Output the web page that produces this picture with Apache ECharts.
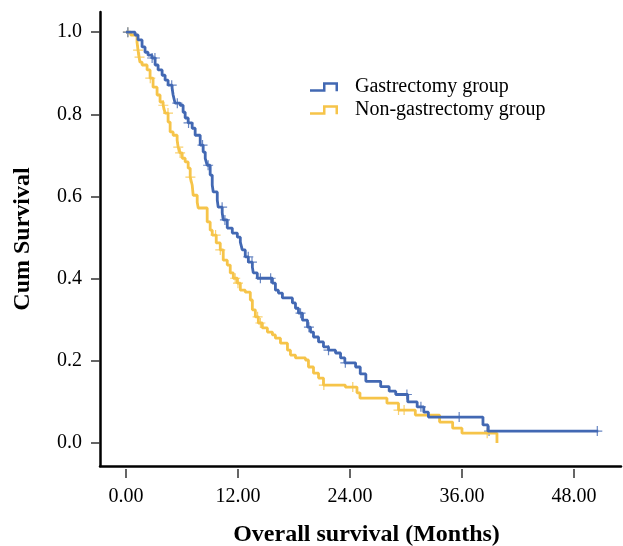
<!DOCTYPE html>
<html>
<head>
<meta charset="utf-8">
<script src="https://cdn.jsdelivr.net/npm/echarts@6/dist/echarts.min.js"></script>
<style>
  html, body { margin: 0; padding: 0; background: #fff; }
  #chart { width: 623px; height: 546px; }
</style>
</head>
<body>
<div id="chart"></div>
<script>
// step points [months, cum survival]
const gastrectomySteps = [
  [0, 1.0], [0.97, 0.993], [1.29, 0.981], [1.72, 0.964], [2.04, 0.951], [2.36, 0.944],
  [2.79, 0.937], [3.12, 0.920], [3.44, 0.908], [3.87, 0.895], [4.19, 0.883], [4.51, 0.871],
  [4.94, 0.864], [5.05, 0.847], [5.26, 0.827], [5.80, 0.822], [6.12, 0.805], [6.34, 0.791],
  [6.66, 0.779], [7.09, 0.766], [7.41, 0.749], [7.95, 0.725], [8.27, 0.708], [8.49, 0.693],
  [8.70, 0.676], [9.02, 0.652], [9.24, 0.628], [9.35, 0.611], [9.78, 0.591], [9.88, 0.574],
  [10.31, 0.560], [10.42, 0.543], [10.85, 0.523], [11.39, 0.511], [11.93, 0.501], [12.25, 0.489],
  [12.46, 0.470], [12.78, 0.453], [13.11, 0.440], [13.54, 0.428], [13.64, 0.414], [14.07, 0.401],
  [15.69, 0.389], [16.01, 0.372], [16.33, 0.365], [16.76, 0.353], [17.83, 0.341], [18.16, 0.328],
  [18.48, 0.316], [18.91, 0.299], [19.45, 0.282], [19.77, 0.270], [20.09, 0.258], [20.63, 0.246],
  [21.16, 0.234], [21.70, 0.226], [22.45, 0.219], [22.99, 0.207], [23.45, 0.195], [24.6, 0.185],
  [25.1, 0.168], [25.7, 0.150], [27.29, 0.137], [28.2, 0.126], [28.9, 0.118], [30.19, 0.100],
  [31.2, 0.088], [31.91, 0.075], [32.4, 0.063], [38.25, 0.044], [38.78, 0.029], [50.6, 0.029]
];
const nonGastrectomySteps = [
  [0, 1.0], [0.5, 0.993], [1.18, 0.976], [1.29, 0.956], [1.40, 0.939], [1.50, 0.927],
  [1.72, 0.920], [2.26, 0.908], [2.58, 0.888], [2.90, 0.866], [3.33, 0.847], [3.65, 0.830],
  [3.98, 0.822], [4.19, 0.803], [4.51, 0.781], [4.73, 0.757], [5.05, 0.749], [5.48, 0.737],
  [5.59, 0.720], [5.80, 0.706], [6.02, 0.693], [6.34, 0.684], [6.66, 0.669], [6.88, 0.647],
  [7.09, 0.628], [7.20, 0.603], [7.63, 0.586], [7.74, 0.572], [8.70, 0.538], [9.02, 0.518],
  [9.24, 0.506], [9.67, 0.487], [10.10, 0.470], [10.42, 0.445], [10.85, 0.433], [11.17, 0.414],
  [11.50, 0.401], [11.93, 0.389], [12.25, 0.372], [12.78, 0.367], [13.32, 0.348], [13.54, 0.324],
  [13.86, 0.307], [14.18, 0.292], [14.61, 0.280], [15.15, 0.270], [15.69, 0.263], [16.01, 0.255],
  [16.55, 0.243], [17.30, 0.226], [17.62, 0.214], [18.16, 0.207], [19.23, 0.202], [19.55, 0.185],
  [20.09, 0.170], [20.63, 0.158], [21.16, 0.141], [23.5, 0.136], [24.75, 0.122], [25.07, 0.109],
  [27.96, 0.097], [29.2, 0.080], [31.0, 0.068], [33.6, 0.051], [35.0, 0.036], [36.0, 0.024],
  [39.75, 0.0]
];
// censored times (the + marks)
const gastrectomyCensored = [0.2, 2.8, 3.1, 4.9, 5.5, 6.7, 8.2, 8.8, 10.3, 10.6, 13.1, 13.5,
  14.4, 15.5, 18.7, 19.6, 21.7, 23.5, 30.1, 31.6, 35.7, 38.9, 50.5];
const nonGastrectomyCensored = [0.2, 1.3, 1.45, 2.6, 4.0, 4.5, 5.6, 5.8, 6.9, 9.6, 10.1, 11.7,
  12.0, 14.1, 14.4, 21.2, 24.3, 29.2, 29.8, 38.7];

const xTicks = [0, 12, 24, 36, 48];
const yTicks = [0, 0.2, 0.4, 0.6, 0.8, 1.0];

const blue = '#4268b3';
const yellow = '#f6c449';
const font = "'Liberation Serif', 'Times New Roman', serif";
const crossIcon = 'path://M-0.12,-1H0.12V-0.12H1V0.12H0.12V1H-0.12V0.12H-1V-0.12H-0.12Z';
const stepIcon = 'path://M0,7H13V0H28V9H25.5V2.5H15.5V9.5H0Z';

const survivalAt = (steps, t) => {
  let s = steps[0][1];
  for (const [x, y] of steps) {
    if (x <= t) s = y;
    else break;
  }
  return s;
};

const xMin = -2.786;
const xMax = 53.04;

const chart = echarts.init(document.getElementById('chart'));
chart.setOption({
  animation: false,
  backgroundColor: '#fff',
  textStyle: { fontFamily: font },
  grid: { left: 100, right: 2, top: 12, bottom: 80, outerBoundsMode: 'none' },
  legend: {
    left: 305,
    top: 72,
    orient: 'vertical',
    itemWidth: 28,
    itemHeight: 10,
    itemGap: 3,
    data: [
      { name: 'Gastrectomy group', icon: stepIcon, itemStyle: { color: blue, borderWidth: 0 } },
      { name: 'Non-gastrectomy group', icon: stepIcon, itemStyle: { color: yellow, borderWidth: 0 } }
    ],
    textStyle: { fontFamily: font, fontSize: 20, color: '#000', padding: [0, 0, 0, 12] }
  },
  xAxis: [
    {
      type: 'value',
      min: xMin,
      max: xMax,
      axisLine: { show: true, onZero: false, lineStyle: { color: '#000', width: 2.5 } },
      axisTick: { show: false },
      axisLabel: { show: false },
      splitLine: { show: false },
      name: 'Overall survival (Months)',
      nameLocation: 'middle',
      nameGap: 57,
      nameTextStyle: { fontFamily: font, fontSize: 24, fontWeight: 'bold', color: '#000', padding: [0, 0, 0, 12] }
    },
    {
      type: 'value',
      min: xMin,
      max: xMax,
      position: 'bottom',
      offset: 3,
      axisLine: { show: false, onZero: false },
      axisTick: { show: true, customValues: xTicks, length: 9, lineStyle: { color: '#333', width: 1.5 } },
      axisLabel: {
        customValues: xTicks,
        formatter: (v) => v.toFixed(2),
        margin: 18,
        fontFamily: font,
        fontSize: 20,
        color: '#000'
      },
      splitLine: { show: false }
    }
  ],
  yAxis: {
    type: 'value',
    min: -0.056,
    max: 1.049,
    axisLine: { show: true, onZero: false, lineStyle: { color: '#000', width: 2.5 } },
    axisTick: { show: true, customValues: yTicks, length: 9, lineStyle: { color: '#333', width: 1.5 } },
    axisLabel: {
      customValues: yTicks,
      formatter: (v) => v.toFixed(1),
      margin: 18,
      fontFamily: font,
      fontSize: 20,
      color: '#000'
    },
    splitLine: { show: false },
    name: 'Cum Survival',
    nameLocation: 'middle',
    nameGap: 65,
    nameTextStyle: { fontFamily: font, fontSize: 24, fontWeight: 'bold', color: '#000' }
  },
  series: [
    {
      name: 'Non-gastrectomy group',
      type: 'line',
      step: 'end',
      showSymbol: false,
      silent: true,
      color: yellow,
      lineStyle: { color: yellow, width: 2.8 },
      data: nonGastrectomySteps
    },
    {
      name: 'Non-gastrectomy group',
      type: 'scatter',
      symbol: crossIcon,
      symbolSize: 10,
      silent: true,
      itemStyle: { color: yellow },
      data: nonGastrectomyCensored.map((t) => [t, survivalAt(nonGastrectomySteps, t)])
    },
    {
      name: 'Gastrectomy group',
      type: 'line',
      step: 'end',
      showSymbol: false,
      silent: true,
      color: blue,
      lineStyle: { color: blue, width: 2.8 },
      data: gastrectomySteps
    },
    {
      name: 'Gastrectomy group',
      type: 'scatter',
      symbol: crossIcon,
      symbolSize: 10,
      silent: true,
      itemStyle: { color: blue },
      data: gastrectomyCensored.map((t) => [t, survivalAt(gastrectomySteps, t)])
    }
  ]
});
</script>
</body>
</html>
